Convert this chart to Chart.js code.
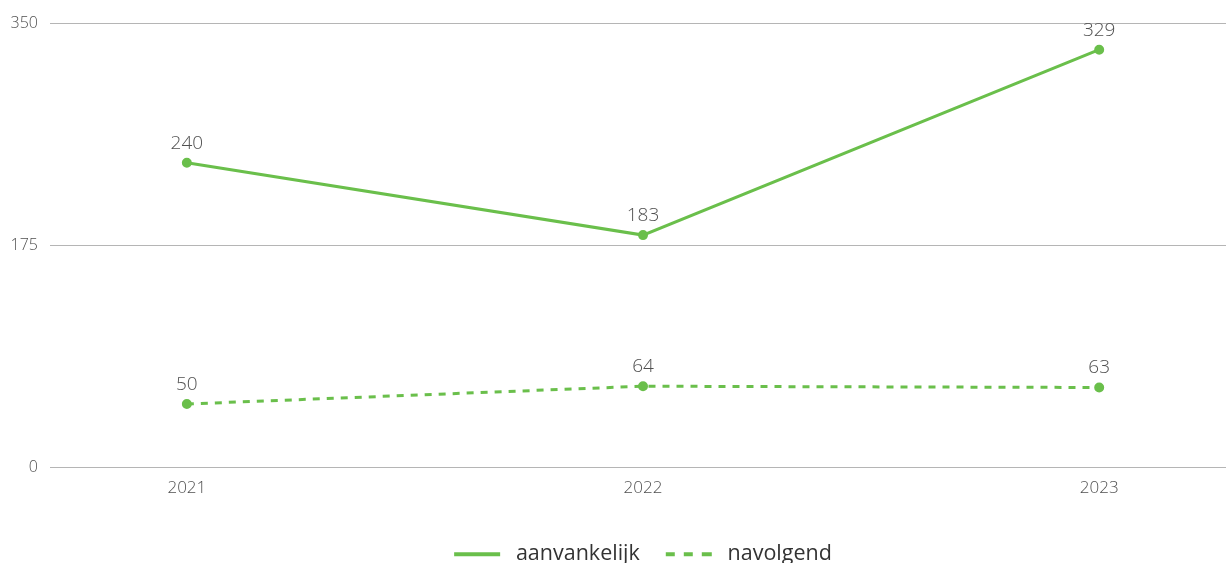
<!DOCTYPE html>
<html>
<head>
<meta charset="utf-8">
<script src="https://cdn.jsdelivr.net/npm/chart.js@4/dist/chart.umd.min.js"></script>
<style>
  html, body { margin: 0; padding: 0; background: #fff; }
  #wrap { width: 1226px; height: 563px; }
</style>
</head>
<body>
<div id="wrap"><canvas id="lineChart"></canvas></div>
<script>
// waarden uit de grafiek
const jaren = [2021, 2022, 2023];
const aanvankelijk = [240, 183, 329];
const navolgend = [50, 64, 63];
const yTicks = [0, 175, 350];

const groen = "#6abf4b";
const tekstKleur = "#505050";

// waarden boven de punten tekenen
const labelPlugin = {
    id: "waardeLabels",
    afterLayout(chart) {
        // legenda iets naar rechts, zoals in het origineel
        chart.legend.left += 5;
        chart.legend.right += 5;
    },
    afterDatasetsDraw(chart) {
        const ctx = chart.ctx;
        ctx.save();
        ctx.font = "300 19px 'Open Sans'";
        ctx.fillStyle = tekstKleur;
        ctx.textAlign = "center";
        ctx.textBaseline = "alphabetic";
        chart.data.datasets.forEach((ds, i) => {
            chart.getDatasetMeta(i).data.forEach((pt, j) => {
                ctx.fillText(ds.data[j].y, pt.x, pt.y - 14);
            });
        });
        ctx.restore();
    }
};

// streepjes in de legenda (lijn van 46px in een vak van 51px)
const legendaStreep = [[46, 1000], [9, 9, 9, 9, 10, 1000]];

const ctx = document.getElementById("lineChart").getContext("2d");
const chart = new Chart(ctx, {
    type: "line",
    data: {
        datasets: [
            {
                label: "aanvankelijk",
                data: jaren.map((j, i) => ({ x: j, y: aanvankelijk[i] })),
                borderColor: groen,
                backgroundColor: groen,
                borderWidth: 3,
                pointRadius: 3.5,
                pointHoverRadius: 4
            },
            {
                label: "navolgend",
                data: jaren.map((j, i) => ({ x: j, y: navolgend[i] })),
                borderColor: groen,
                backgroundColor: groen,
                borderWidth: 3,
                borderDash: [7, 7],
                pointRadius: 3.5,
                pointHoverRadius: 4
            }
        ]
    },
    options: {
        responsive: true,
        maintainAspectRatio: false,
        animation: false,
        layout: { autoPadding: false, padding: { top: 23, right: 0, left: 0, bottom: -12 } },
        scales: {
            x: {
                type: "linear",
                min: 2020.7,
                max: 2023.278,
                afterBuildTicks: (scale) => {
                    scale.ticks = jaren.map(v => ({ value: v }));
                },
                afterFit: (scale) => {
                    scale.paddingLeft = 0;
                    scale.paddingRight = 0;
                    scale.height = 50;
                },
                grid: { display: false },
                border: { display: false },
                ticks: {
                    color: tekstKleur,
                    font: { family: "'Open Sans'", size: 17, weight: 300 },
                    padding: 2,
                    callback: (v) => String(v)
                }
            },
            y: {
                min: 0,
                max: 350,
                afterBuildTicks: (scale) => {
                    scale.ticks = yTicks.map(v => ({ value: v }));
                },
                afterFit: (scale) => { scale.width = 50; },
                grid: { color: "#b5b5b5", lineWidth: 1, drawTicks: false },
                border: { display: false },
                ticks: {
                    color: tekstKleur,
                    font: { family: "'Open Sans'", size: 16, weight: 300 },
                    padding: 12
                }
            }
        },
        plugins: {
            legend: {
                position: "bottom",
                fullSize: false,
                labels: {
                    boxWidth: 51,
                    boxHeight: 0,
                    padding: 26,
                    color: "#333333",
                    font: { family: "'Open Sans'", size: 21.5 },
                    generateLabels: (chart) => chart.data.datasets.map((ds, i) => ({
                        text: ds.label,
                        fillStyle: "rgba(0,0,0,0)",
                        strokeStyle: groen,
                        lineWidth: 4,
                        lineCap: "butt",
                        lineDash: legendaStreep[i],
                        fontColor: "#333333",
                        hidden: false,
                        datasetIndex: i
                    }))
                }
            },
            tooltip: { enabled: false }
        }
    },
    plugins: [labelPlugin]
});
</script>
</body>
</html>
